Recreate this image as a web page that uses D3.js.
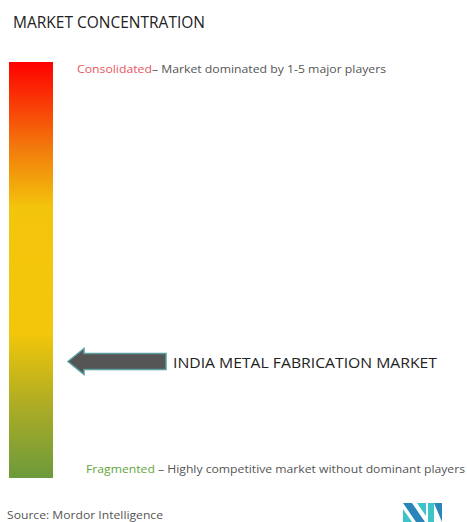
<!DOCTYPE html>
<html><head><meta charset="utf-8">
<script src="https://cdn.jsdelivr.net/npm/d3@7"></script>
<style>html,body{margin:0;padding:0;background:#fff;}svg{display:block;}</style>
</head><body>
<script>
const title = "MARKET CONCENTRATION";
const marketName = "INDIA METAL FABRICATION MARKET";
const topLabel = ["Consolidated", "– Market dominated by 1-5 major players"];
const bottomLabel = ["Fragmented", " – Highly competitive market without dominant players"];
const source = "Source: Mordor Intelligence";
// gradient stops: concentration level (0 = fragmented, 1 = consolidated)
const stopLevels = [0, 0.19, 0.35, 0.65, 0.79, 1];
const stopColors = ["#6c9a3c", "#b3ae22", "#f3c60a", "#f3c40c", "#f27c0c", "#ff0000"];
const marketLevel = 0.28;

const W = 467, H = 522;
const svg = d3.select("body").append("svg").attr("width", W).attr("height", H);
const font = "'Open Sans', sans-serif";

const y = d3.scaleLinear().domain([0, 1]).range([478, 62]);
const barX = 9, barW = 44;

const defs = svg.append("defs");
const grad = defs.append("linearGradient").attr("id", "g")
  .attr("x1", 0).attr("y1", 1).attr("x2", 0).attr("y2", 0);
grad.selectAll("stop").data(stopLevels).join("stop")
  .attr("offset", d => d)
  .attr("stop-color", (d, i) => stopColors[i]);

svg.append("rect").attr("x", barX).attr("y", y(1)).attr("width", barW)
  .attr("height", y(0) - y(1)).attr("fill", "url(#g)");

svg.append("text").attr("x", 13).attr("y", 28).attr("font-family", font)
  .attr("font-size", 15.5).attr("fill", "#222").attr("textLength", 192)
  .attr("lengthAdjust", "spacingAndGlyphs").text(title);

const t1 = svg.append("text").attr("x", 77).attr("y", 73).attr("font-family", font)
  .attr("font-size", 11.5).attr("textLength", 309).attr("lengthAdjust", "spacingAndGlyphs");
t1.append("tspan").attr("fill", "#e8565e").text(topLabel[0]);
t1.append("tspan").attr("fill", "#555").text(topLabel[1]);

const t2 = svg.append("text").attr("x", 86).attr("y", 473).attr("font-family", font)
  .attr("font-size", 11.5).attr("textLength", 379).attr("lengthAdjust", "spacingAndGlyphs");
t2.append("tspan").attr("fill", "#5fa63c").text(bottomLabel[0]);
t2.append("tspan").attr("fill", "#555").text(bottomLabel[1]);

// arrow
const ay = y(marketLevel);
const tipX = 68, headX = 84, endX = 166;
const arrow = d3.path();
arrow.moveTo(tipX, ay);
arrow.lineTo(headX, ay - 13);
arrow.lineTo(headX, ay - 8);
arrow.lineTo(endX, ay - 8);
arrow.lineTo(endX, ay + 8);
arrow.lineTo(headX, ay + 8);
arrow.lineTo(headX, ay + 13);
arrow.closePath();
svg.append("path").attr("d", arrow.toString()).attr("fill", "#555")
  .attr("stroke", "#5a9e9c").attr("stroke-width", 1.5);

svg.append("text").attr("x", 173).attr("y", ay + 6).attr("font-family", font)
  .attr("font-size", 15).attr("fill", "#222").attr("textLength", 264)
  .attr("lengthAdjust", "spacingAndGlyphs").text(marketName);

svg.append("text").attr("x", 7).attr("y", 519).attr("font-family", font)
  .attr("font-size", 11.5).attr("fill", "#555").attr("textLength", 156)
  .attr("lengthAdjust", "spacingAndGlyphs").text(source);

// logo
const lg = svg.append("g").attr("transform", "translate(403,503)");
lg.append("path").attr("d", "M0,0 L9,0 L22,19 L13,19 Z").attr("fill", "#2a86b8");
lg.append("path").attr("d", "M0,6 L9,19 L0,19 Z").attr("fill", "#3cc4c8");
lg.append("path").attr("d", "M14,0 L23,0 L23,13 Z").attr("fill", "#3cc4c8");
lg.append("path").attr("d", "M25,0 L31,0 L31,19 L25,19 Z").attr("fill", "#3cc4c8");
lg.append("path").attr("d", "M31,0 L39,0 L39,19 Z").attr("fill", "#2a86b8");
</script>
</body></html>
